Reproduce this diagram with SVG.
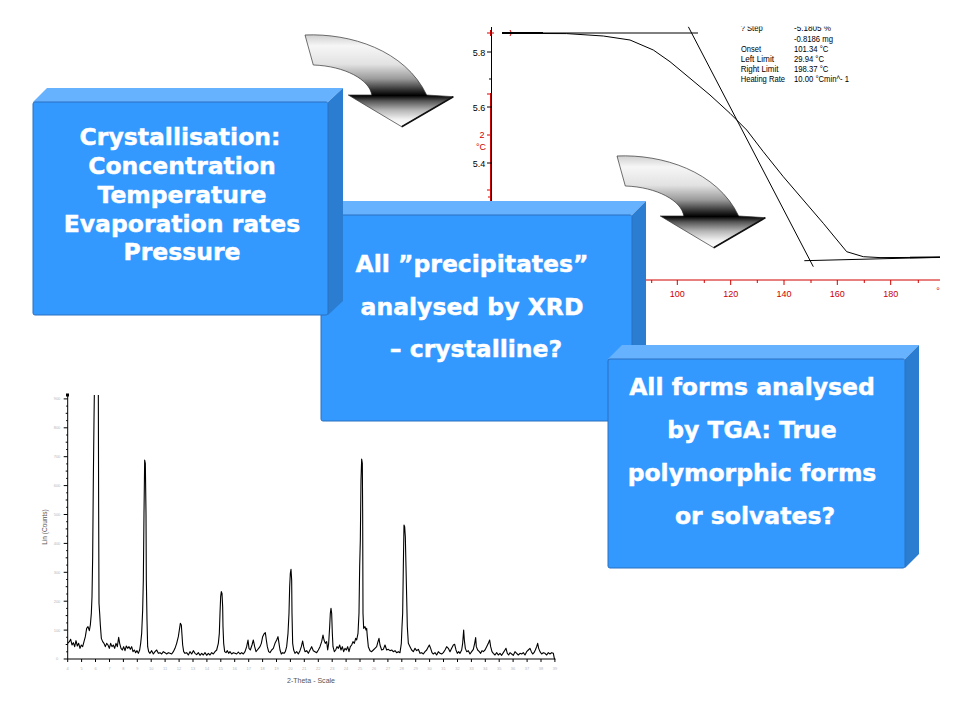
<svg xmlns="http://www.w3.org/2000/svg" width="960" height="720" viewBox="0 0 960 720">
<style>
.front{fill:#3399ff;stroke:#2b70c0;stroke-width:1}
.top{fill:#66b2ff}
.side{fill:#2b7dd2}
.lbl{font-family:"DejaVu Sans",Verdana,sans-serif;font-weight:bold;font-size:23.5px;fill:#ffffff;stroke:#ffffff;stroke-width:0.45;text-anchor:middle}
.tga{font-family:"Liberation Sans",Arial,sans-serif;font-size:9px;fill:#000}
.red{font-family:"Liberation Sans",Arial,sans-serif;font-size:9px;fill:#cc0000;text-anchor:middle}
.tiny{font-family:"Liberation Sans",Arial,sans-serif;font-size:4px;fill:#b8b8b8;text-anchor:middle}
.ax{fill:none;stroke:#000;stroke-width:1}
.rax{fill:none;stroke:#d00000;stroke-width:1}
.arrow{stroke:#333;stroke-width:0.7;fill:url(#ag)}
</style>
<defs>
<linearGradient id="ag" x1="0" y1="0" x2="0" y2="1">
<stop offset="0" stop-color="#cfcfcf"/>
<stop offset="0.12" stop-color="#f6f6f6"/>
<stop offset="0.32" stop-color="#e2e2e2"/>
<stop offset="0.48" stop-color="#9a9a9a"/>
<stop offset="0.6" stop-color="#303030"/>
<stop offset="0.66" stop-color="#000000"/>
<stop offset="0.72" stop-color="#555555"/>
<stop offset="0.82" stop-color="#b5b5b5"/>
<stop offset="0.92" stop-color="#f2f2f2"/>
<stop offset="1" stop-color="#ffffff"/>
</linearGradient>
<clipPath id="tgaclip"><rect x="460" y="26.5" width="500" height="300"/></clipPath>
</defs>
<rect width="960" height="720" fill="#ffffff"/>

<g id="tga-chart" clip-path="url(#tgaclip)">
<line class="ax" x1="491.5" y1="27" x2="491.5" y2="205"/>
<line class="rax" x1="490.5" y1="93" x2="490.5" y2="205"/>
<path class="ax" d="M487,52H491M487,107H491M487,163H491M489,79H491"/>
<path class="rax" d="M487,94H491M487,135H491M487,190H491M488,197H491"/>
<text class="tga" x="479" y="55.5" text-anchor="middle">5.8</text>
<text class="tga" x="479" y="110.5" text-anchor="middle">5.6</text>
<text class="tga" x="479" y="166.5" text-anchor="middle">5.4</text>
<text class="red" x="482" y="138">2</text>
<text class="red" x="481" y="150">°C</text>
<path class="rax" d="M487,33H494M490.5,30V36M510,30Q513,33 510,36"/>
<line class="ax" x1="502" y1="33" x2="698" y2="33"/>
<line x1="502" y1="33" x2="543" y2="33" stroke="#000" stroke-width="2"/>
<polyline class="ax" points="543,33.5 566.7,33.6 603.3,36 630,40 653.3,50 670,61.7 690,78.3 710,95 730,113.3 746.7,130 763.3,151.7 783.3,176.7 803.3,200 823.3,223.3 846.7,251.7 863.3,256.7 880,257.6 940,257.3"/>
<line class="ax" x1="688.3" y1="26.7" x2="813.3" y2="266.7"/>
<line class="ax" x1="804.3" y1="260.7" x2="940" y2="257.3"/>
<line x1="910" y1="257.5" x2="940" y2="257.3" stroke="#000" stroke-width="1.6"/>
<line class="rax" x1="600" y1="280" x2="940" y2="280"/>
<path class="rax" d="M677.3,280V285M730.7,280V285M784,280V285M837.3,280V285M890.7,280V285M651.7,280V283M704.3,280V283M757.3,280V283M811,280V283M864.3,280V283M918.3,280V283"/>
<text class="red" x="677.3" y="296.5">100</text>
<text class="red" x="730.7" y="296.5">120</text>
<text class="red" x="784" y="296.5">140</text>
<text class="red" x="837.3" y="296.5">160</text>
<text class="red" x="890.7" y="296.5">180</text>
<text class="red" x="938" y="294" font-size="7">°</text>
<text class="tga" x="740.7" y="31.3" textLength="22" lengthAdjust="spacingAndGlyphs">? Step</text>
<text class="tga" x="794" y="31.3" textLength="37" lengthAdjust="spacingAndGlyphs">-5.1805 %</text>
<text class="tga" x="794" y="42" textLength="39" lengthAdjust="spacingAndGlyphs">-0.8186 mg</text>
<text class="tga" x="741" y="52" textLength="20" lengthAdjust="spacingAndGlyphs">Onset</text>
<text class="tga" x="794" y="52" textLength="34.3" lengthAdjust="spacingAndGlyphs">101.34 °C</text>
<text class="tga" x="740.7" y="61.7" textLength="33.3" lengthAdjust="spacingAndGlyphs">Left Limit</text>
<text class="tga" x="794" y="61.7" textLength="30" lengthAdjust="spacingAndGlyphs">29.94 °C</text>
<text class="tga" x="740.7" y="71.7" textLength="37.7" lengthAdjust="spacingAndGlyphs">Right Limit</text>
<text class="tga" x="794" y="71.7" textLength="34.3" lengthAdjust="spacingAndGlyphs">198.37 °C</text>
<text class="tga" x="740.7" y="81.7" textLength="44.3" lengthAdjust="spacingAndGlyphs">Heating Rate</text>
<text class="tga" x="794" y="81.7" textLength="55" lengthAdjust="spacingAndGlyphs">10.00 °Cmin^- 1</text>
</g>

<g id="xrd-chart">
<line class="ax" x1="67.7" y1="395" x2="67.7" y2="659"/>
<line class="ax" x1="67.7" y1="659" x2="555" y2="659"/>
<rect x="66" y="393.5" width="3" height="3" fill="#000"/>
<path class="ax" stroke-width="0.8" d="M63.7,659H67.7M63.7,630.1H67.7M63.7,601.2H67.7M63.7,572.3H67.7M63.7,543.4H67.7M63.7,514.5H67.7M63.7,485.6H67.7M63.7,456.7H67.7M63.7,427.8H67.7M63.7,398.9H67.7M65.7,644.5H67.7M65.7,615.6H67.7M65.7,586.7H67.7M65.7,557.8H67.7M65.7,528.9H67.7M65.7,500H67.7M65.7,471.1H67.7M65.7,442.2H67.7M65.7,413.3H67.7M66.2,651.8H67.7M66.2,637.3H67.7M66.2,622.9H67.7M66.2,608.4H67.7M66.2,594H67.7M66.2,579.5H67.7M66.2,565.1H67.7M66.2,550.6H67.7M66.2,536.2H67.7M66.2,521.7H67.7M66.2,507.3H67.7M66.2,492.8H67.7M66.2,478.4H67.7M66.2,463.9H67.7M66.2,449.5H67.7M66.2,435H67.7M66.2,420.6H67.7M66.2,406.1H67.7"/>
<path class="ax" stroke-width="0.8" d="M67.7,659v3M81.6,659v3M95.5,659v3M109.5,659v3M123.4,659v3M137.3,659v3M151.2,659v3M165.1,659v3M179.1,659v3M193,659v3M206.9,659v3M220.8,659v3M234.7,659v3M248.7,659v3M262.6,659v3M276.5,659v3M290.4,659v3M304.3,659v3M318.3,659v3M332.2,659v3M346.1,659v3M360,659v3M373.9,659v3M387.9,659v3M401.8,659v3M415.7,659v3M429.6,659v3M443.5,659v3M457.5,659v3M471.4,659v3M485.3,659v3M499.2,659v3M513.1,659v3M527.1,659v3M541,659v3M554.9,659v3"/>
<g class="tiny">
<text x="57" y="660.4">0</text><text x="57" y="631.5">100</text><text x="57" y="602.6">200</text><text x="57" y="573.7">300</text><text x="57" y="544.8">400</text><text x="57" y="515.9">500</text><text x="57" y="487">600</text><text x="57" y="458.1">700</text><text x="57" y="429.2">800</text><text x="57" y="400.3">900</text>
<text x="67.7" y="670">4</text><text x="81.6" y="670">5</text><text x="95.5" y="670">6</text><text x="109.5" y="670">7</text><text x="123.4" y="670">8</text><text x="137.3" y="670">9</text><text x="151.2" y="670">10</text><text x="165.1" y="670">11</text><text x="179.1" y="670">12</text><text x="193" y="670">13</text><text x="206.9" y="670">14</text><text x="220.8" y="670">15</text><text x="234.7" y="670">16</text><text x="248.7" y="670">17</text><text x="262.6" y="670">18</text><text x="276.5" y="670">19</text><text x="290.4" y="670">20</text><text x="304.3" y="670">21</text><text x="318.3" y="670">22</text><text x="332.2" y="670">23</text><text x="346.1" y="670">24</text><text x="360" y="670">25</text><text x="373.9" y="670">26</text><text x="387.9" y="670">27</text><text x="401.8" y="670">28</text><text x="415.7" y="670">29</text><text x="429.6" y="670">30</text><text x="443.5" y="670">31</text><text x="457.5" y="670">32</text><text x="471.4" y="670">33</text><text x="485.3" y="670">34</text><text x="499.2" y="670">35</text><text x="513.1" y="670">36</text><text x="527.1" y="670">37</text><text x="541" y="670">38</text><text x="554.9" y="670">39</text>
</g>
<text x="47" y="527" transform="rotate(-90 47 527)" font-family="Liberation Sans, Arial, sans-serif" font-size="6.5" fill="#555" text-anchor="middle">Lin (Counts)</text>
<text x="311" y="682.5" font-family="Liberation Sans, Arial, sans-serif" font-size="6.5" fill="#555" text-anchor="middle" textLength="48" lengthAdjust="spacingAndGlyphs">2-Theta - Scale</text>
<g transform="translate(40,380) scale(0.33333)" fill="none" stroke="#000" stroke-width="3.3" stroke-linejoin="round">
<polyline points="83,790 88,785 92,778 96,795 100,788 104,800 108,782 112,798 116,790 120,805 124,795 128,800 132,785 136,770 140,745 144,740 148,752 151,735 154,700 156,650 158,530 160,300 162,120 163,45"/>
<polyline points="175,45 176,400 177,670 179,700 181,735 184,775 188,785 192,790 196,800 200,790 204,795 208,805 212,790 216,800 220,795 224,805 228,790 232,800 236,772 239,790 243,805 247,810 251,800 255,812 259,798 263,805 267,800 271,808 275,800 279,815 283,810 287,818 291,812 295,820 299,810 302,790 305,760 308,690 310,600 312,400 314,240 316,250 318,400 319,600 321,720 323,800 326,815 330,820 335,812 340,822 345,815 350,810 355,820 360,818 365,822 370,815 375,818 380,822 385,818 390,820 395,822 400,815 405,805 410,790 415,770 418,750 421,730 424,735 426,765 428,795 431,815 435,820 440,818 445,825 450,815 455,822 460,812 465,820 470,824 475,818 480,826 485,820 490,825 495,818 500,826 505,820 510,825 515,818 520,822 525,815 530,810 535,790 538,760 540,700 542,650 544,635 546,640 548,680 549,740 551,790 554,815 558,818 562,812 566,820 570,815 575,822 580,818 585,820 590,822 595,816 600,822 605,818 610,822 615,815 620,800 624,780 627,805 631,810 636,795 640,780 644,800 648,815 652,810 656,805 660,800 664,790 668,770 672,762 676,758 679,780 682,800 686,815 690,818 695,810 700,805 705,790 710,780 714,770 717,790 720,810 724,822 728,818 732,820 736,815 740,800 744,760 747,700 749,620 751,580 753,568 755,600 756,700 758,790 761,810 765,820 770,815 775,822 780,812 784,800 788,783 791,800 795,815 800,812 805,820 810,810 815,800 820,812 825,815 830,818 835,810 840,800 845,785 849,765 852,780 856,790 860,785 863,810 866,790 869,740 871,700 873,685 875,700 877,760 879,800 883,815 887,810 891,800 895,805 899,795 903,810 907,800 911,815 915,805 919,810 923,800 927,815 931,800 935,795 939,785 943,790 947,775 950,780 954,760 957,700 959,560 961,480 963,300 965,237 967,250 968,400 969,700 971,745 975,740 978,750 980,745 982,770 985,800 990,812 995,815 1000,810 1005,805 1010,800 1014,785 1017,775 1020,795 1025,810 1030,808 1035,795 1040,810 1045,808 1050,812 1055,810 1060,815 1065,812 1070,818 1075,815 1080,818 1084,790 1086,740 1088,700 1090,560 1092,435 1094,440 1096,470 1098,560 1100,650 1102,740 1105,790 1110,800 1115,810 1120,815 1125,805 1130,812 1135,808 1140,820 1145,818 1150,822 1155,815 1160,810 1165,800 1168,795 1172,805 1176,818 1180,822 1185,818 1190,825 1195,815 1200,820 1205,822 1210,818 1215,810 1220,800 1225,805 1230,815 1235,805 1240,795 1244,793 1248,810 1252,820 1256,815 1260,820 1265,810 1268,790 1271,750 1273,780 1276,805 1280,815 1285,812 1290,822 1295,815 1300,808 1304,790 1307,773 1309,800 1313,810 1318,815 1322,820 1326,812 1330,815 1335,810 1340,800 1345,790 1349,780 1352,800 1356,815 1360,820 1365,825 1370,818 1375,825 1380,820 1385,826 1390,818 1395,810 1398,805 1402,820 1406,825 1410,818 1415,822 1420,826 1425,815 1430,820 1435,825 1440,820 1445,822 1450,818 1455,825 1460,815 1465,810 1470,805 1474,815 1478,822 1482,818 1486,810 1490,800 1493,790 1496,805 1500,815 1505,822 1510,818 1515,820 1520,825 1525,818 1530,822 1535,818 1540,820 1543,835 1546,838"/>
</g>
</g>

<g id="box2">
<polygon class="top" points="321,215 335,201 646,201 632,215"/>
<polygon class="side" points="632,215 646,201 646,407 632,421"/>
<rect class="front" x="321" y="215" width="311" height="206" rx="2"/>
<text class="lbl" x="472" y="271.7">All ”precipitates”</text>
<text class="lbl" x="472" y="315">analysed by XRD</text>
<text class="lbl" x="476" y="357">– crystalline?</text>
</g>

<g id="box1">
<polygon class="top" points="33,102 47,88 343,88 328,102"/>
<polygon class="side" points="328,102 343,88 343,301 328,315"/>
<rect class="front" x="33" y="102" width="295" height="213" rx="2"/>
<text class="lbl" x="180" y="145">Crystallisation:</text>
<text class="lbl" x="182" y="174">Concentration</text>
<text class="lbl" x="182" y="202.7">Temperature</text>
<text class="lbl" x="182" y="231.7">Evaporation rates</text>
<text class="lbl" x="182" y="260">Pressure</text>
</g>

<g id="box3">
<polygon class="top" points="608,359 622,345 919,345 905,359"/>
<polygon class="side" points="905,359 919,345 919,554 905,568"/>
<rect class="front" x="608" y="359" width="297" height="209" rx="2"/>
<text class="lbl" x="752" y="395">All forms analysed</text>
<text class="lbl" x="752" y="438.3">by TGA: True</text>
<text class="lbl" x="752" y="481">polymorphic forms</text>
<text class="lbl" x="755" y="523.5">or solvates?</text>
</g>

<g id="connectors">
<g id="arrow1">
<path class="arrow" d="M305,35 C350,33 405,50 426.7,95 L453.3,96.7 L401.7,126.7 L348.3,95 L371.7,95 C370,80 345,66 313.3,65 Z"/>
<line x1="453.3" y1="96.7" x2="401.7" y2="126.7" stroke="#111" stroke-width="1.6"/>
</g>
<g id="arrow2" transform="translate(312,121)">
<path class="arrow" d="M305,35 C350,33 405,50 426.7,95 L453.3,96.7 L401.7,126.7 L348.3,95 L371.7,95 C370,80 345,66 313.3,65 Z"/>
<line x1="453.3" y1="96.7" x2="401.7" y2="126.7" stroke="#111" stroke-width="1.6"/>
</g>
</g>
</svg>
